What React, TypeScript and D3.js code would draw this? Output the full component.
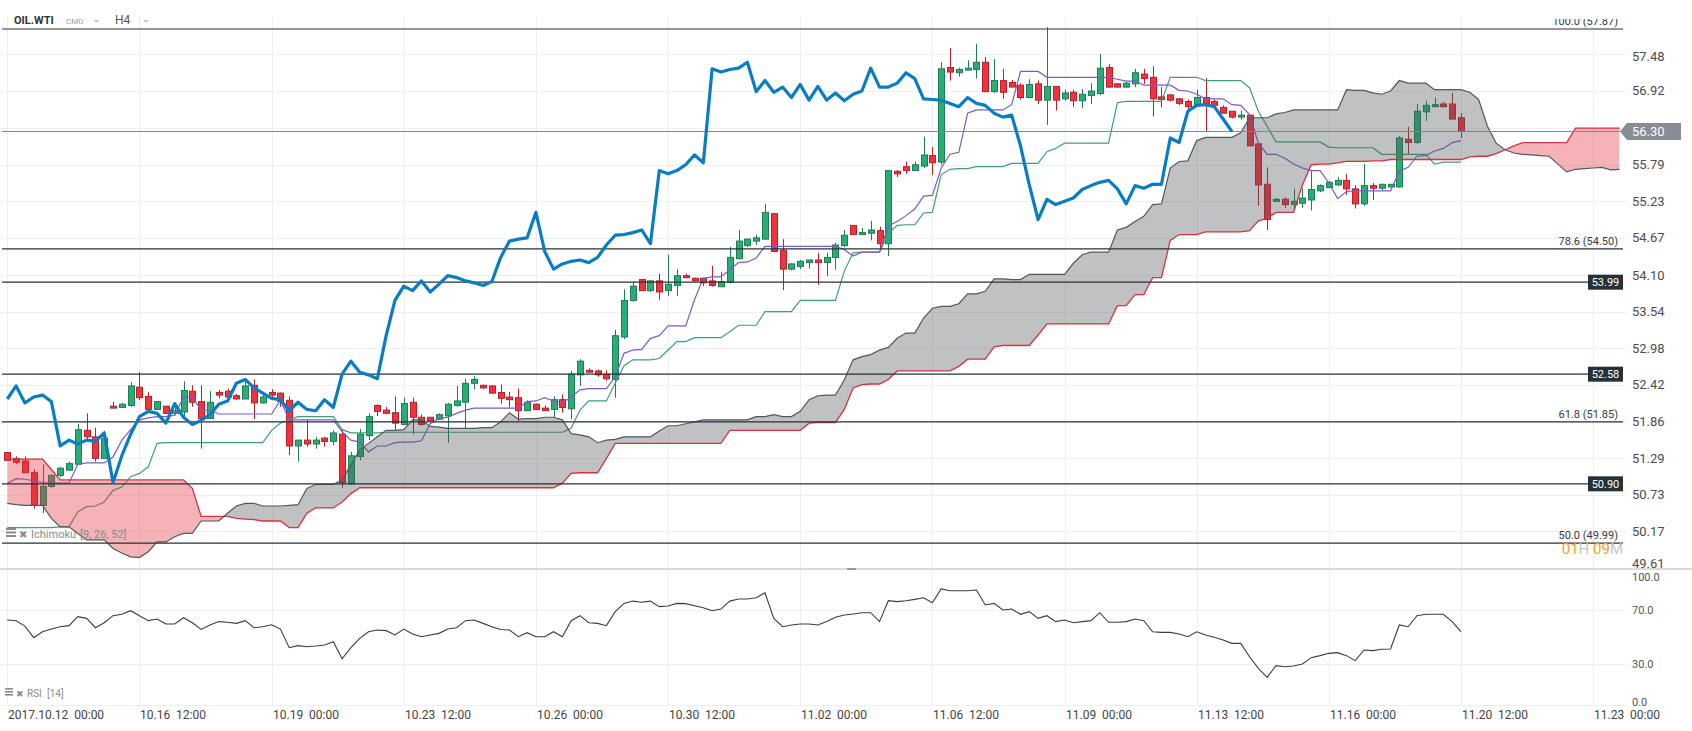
import React from 'react';
import * as d3 from 'd3';

const opens = [51.38,51.29,51.25,51.07,50.57,50.86,51.03,51.11,51.20,51.72,
51.62,51.29,52.09,52.07,52.10,52.38,52.24,52.04,52.09,51.98,
52.00,52.32,52.16,51.90,52.30,52.32,52.25,52.20,52.41,52.14,
52.30,52.29,52.18,51.48,51.57,51.51,51.60,51.55,51.66,50.90,
51.32,51.64,52.10,52.03,51.99,51.81,52.15,51.92,51.92,51.89,
51.94,52.10,52.15,52.44,52.41,52.40,52.30,52.23,52.22,52.02,
52.12,52.06,52.04,52.19,52.05,52.57,52.64,52.63,52.58,52.50,
53.15,53.71,54.03,53.86,54.01,53.86,53.94,54.09,54.05,54.05,
54.01,53.92,53.99,54.35,54.55,54.62,54.65,55.04,54.48,54.19,
54.23,54.29,54.33,54.29,54.37,54.55,54.86,54.72,54.74,54.78,
54.58,55.69,55.76,55.70,55.77,55.93,55.83,57.28,57.20,57.24,
57.25,57.36,56.91,57.08,57.05,57.01,56.82,57.03,56.78,56.99,
56.80,56.90,56.77,56.85,56.88,57.28,57.03,56.98,57.03,57.18,
57.13,56.83,56.86,56.80,56.76,56.70,56.82,56.76,56.67,56.61,
56.52,56.55,56.11,55.49,55.23,55.26,55.18,55.20,55.25,55.39,
55.44,55.48,55.55,55.42,55.19,55.47,55.43,55.45,55.45,56.18,
56.13,56.60,56.68,56.72,56.72,56.51];

const highs = [51.38,51.32,51.32,51.12,51.20,51.04,51.16,51.24,51.82,51.98,
51.76,51.71,52.16,52.14,52.46,52.61,52.31,52.16,52.09,52.14,
52.47,52.41,52.41,52.32,52.34,52.36,52.28,52.46,52.50,52.26,
52.35,52.30,52.24,51.57,51.88,51.62,51.62,51.72,51.73,51.39,
51.74,51.98,52.12,52.08,52.24,52.22,52.22,51.96,51.92,51.98,
52.14,52.40,52.51,52.55,52.42,52.41,52.42,52.31,52.36,52.18,
52.13,52.10,52.24,52.27,52.63,52.81,52.67,52.65,52.64,53.26,
53.88,54.00,54.03,54.02,54.12,54.41,54.19,54.12,54.06,54.06,
54.24,54.15,54.53,54.79,54.66,54.72,55.19,55.04,54.65,54.28,
54.33,54.33,54.44,54.44,54.59,54.79,54.86,54.82,54.93,54.84,
55.71,55.71,55.84,55.84,56.22,56.06,57.36,57.58,57.28,57.39,
57.64,57.44,57.41,57.26,57.09,57.04,57.10,57.08,57.90,56.99,
56.94,56.94,56.95,57.04,57.49,57.33,57.04,57.06,57.26,57.26,
57.30,56.98,56.87,56.81,56.79,56.94,57.12,56.79,56.70,56.61,
56.62,56.55,56.11,55.75,55.28,55.29,55.42,55.43,55.69,55.49,
55.54,55.60,55.65,55.48,55.80,55.51,55.50,55.49,56.23,56.37,
56.72,56.77,56.82,56.75,56.89,56.58];

const lows = [51.25,51.20,51.07,50.52,50.45,50.84,51.00,51.10,51.20,51.58,
51.24,51.29,52.06,52.06,52.08,52.18,51.99,52.04,51.97,51.95,
51.93,52.08,51.44,51.89,52.21,52.21,52.19,52.20,51.89,52.13,
52.23,52.08,51.34,51.24,51.47,51.44,51.47,51.49,50.84,50.89,
51.26,51.57,51.94,51.97,51.72,51.80,51.66,51.79,51.86,51.88,
51.53,52.08,51.74,52.35,52.35,52.28,52.13,52.07,51.86,52.02,
52.03,52.02,51.91,51.99,51.89,52.40,52.61,52.54,52.48,52.22,
53.12,53.69,53.86,53.84,53.72,53.78,53.78,54.05,54.00,53.93,
53.92,53.92,53.97,54.34,54.53,54.56,54.64,54.46,53.87,54.17,
54.19,54.20,53.95,54.08,54.18,54.53,54.72,54.71,54.63,54.50,
54.39,55.60,55.65,55.70,55.74,55.63,55.79,57.08,57.14,57.24,
57.11,56.90,56.89,56.80,56.98,56.79,56.81,56.72,56.40,56.62,
56.77,56.68,56.66,56.72,56.86,56.97,56.97,56.97,56.98,57.03,
56.53,56.67,56.76,56.70,56.63,56.68,56.29,56.68,56.57,56.50,
56.48,56.07,55.16,54.79,55.22,55.13,55.10,55.13,55.09,55.37,
55.43,55.47,55.33,55.12,55.16,55.25,55.39,55.44,55.44,55.94,
56.11,56.46,56.67,56.67,56.48,56.20];

const closes = [51.26,51.23,51.07,50.57,50.86,51.03,51.14,51.21,51.73,51.62,
51.29,51.60,52.06,52.12,52.40,52.22,52.04,52.16,51.98,52.02,
52.33,52.15,51.90,52.15,52.26,52.23,52.20,52.40,52.14,52.23,
52.26,52.16,51.48,51.57,51.51,51.57,51.55,51.68,50.92,51.33,
51.66,51.93,52.01,51.98,51.83,52.13,51.92,51.81,51.87,51.96,
52.12,52.17,52.44,52.50,52.37,52.29,52.21,52.19,52.02,52.15,
52.04,52.02,52.19,52.07,52.58,52.78,52.61,52.57,52.51,53.17,
53.71,53.93,53.86,54.01,53.84,53.96,54.09,54.06,54.01,53.98,
53.94,54.00,54.37,54.62,54.65,54.67,55.06,54.46,54.19,54.27,
54.31,54.33,54.29,54.37,54.56,54.71,54.72,54.75,54.79,54.58,
55.70,55.65,55.70,55.79,55.94,55.82,57.26,57.21,57.25,57.27,
57.36,56.91,57.08,56.90,56.98,56.82,57.02,56.78,56.99,56.78,
56.89,56.77,56.87,56.92,57.27,56.98,56.98,57.04,57.20,57.11,
56.80,56.79,56.78,56.73,56.68,56.82,56.73,56.70,56.58,56.52,
56.55,56.08,55.48,54.95,55.26,55.18,55.23,55.28,55.41,55.47,
55.52,55.55,55.42,55.19,55.47,55.43,55.49,55.49,56.20,56.13,
56.61,56.70,56.71,56.68,56.49,56.30];

const tenkan = [50.91,50.98,50.97,50.95,50.92,50.91,50.91,50.91,51.20,51.22,
51.22,51.22,51.31,51.57,51.73,51.88,51.91,51.93,51.93,51.95,
52.23,52.23,52.03,52.03,51.97,51.97,51.97,51.97,51.97,51.97,
51.97,52.18,51.88,51.88,51.88,51.88,51.88,51.88,51.70,51.57,
51.54,51.39,51.48,51.48,51.53,51.54,51.54,51.56,51.82,51.90,
51.92,51.98,52.03,52.06,52.06,52.06,52.06,52.06,52.06,52.16,
52.17,52.22,52.17,52.14,52.23,52.34,52.36,52.36,52.36,52.54,
52.90,52.95,52.96,53.13,53.17,53.32,53.32,53.32,53.72,54.05,
54.07,54.07,54.18,54.29,54.30,54.36,54.54,54.54,54.54,54.54,
54.54,54.54,54.54,54.54,54.54,54.49,54.39,54.45,54.45,54.45,
54.85,54.92,55.01,55.11,55.31,55.32,55.74,55.95,55.98,56.58,
56.63,56.63,56.63,56.63,56.71,57.22,57.22,57.22,57.13,57.13,
57.13,57.13,57.13,57.13,57.13,57.13,57.10,57.07,57.07,57.01,
57.01,57.01,57.01,56.93,56.92,56.87,56.80,56.80,56.80,56.71,
56.70,56.56,56.12,55.95,55.95,55.89,55.80,55.74,55.70,55.70,
55.51,55.27,55.38,55.39,55.39,55.39,55.39,55.39,55.69,55.75,
55.92,55.93,56.00,56.04,56.13,56.16];

const kijun = [50.23,50.23,50.23,50.23,50.23,50.23,50.24,50.24,50.47,50.55,
50.56,50.62,50.80,50.85,51.01,51.06,51.16,51.52,51.53,51.53,
51.53,51.53,51.53,51.53,51.53,51.53,51.53,51.53,51.53,51.53,
51.72,51.83,51.88,51.93,51.93,51.93,51.93,51.93,51.73,51.68,
51.68,51.68,51.68,51.69,51.69,51.69,51.69,51.69,51.69,51.69,
51.69,51.69,51.69,51.69,51.69,51.69,51.69,51.69,51.69,51.69,
51.69,51.69,51.69,51.69,51.75,52.03,52.17,52.17,52.17,52.44,
52.71,52.80,52.80,52.80,52.82,52.95,53.08,53.08,53.14,53.14,
53.14,53.14,53.23,53.33,53.33,53.33,53.54,53.54,53.54,53.54,
53.71,53.71,53.71,53.71,53.71,54.16,54.44,54.45,54.45,54.45,
54.74,54.86,54.87,54.87,55.05,55.06,55.64,55.72,55.73,55.73,
55.76,55.76,55.76,55.76,55.81,55.81,55.81,55.81,55.99,56.04,
56.12,56.12,56.12,56.12,56.12,56.12,56.74,56.76,56.76,56.76,
56.76,56.76,57.13,57.13,57.13,57.13,57.08,57.08,57.08,57.08,
57.08,56.97,56.61,56.38,56.14,56.14,56.14,56.14,56.14,56.14,
56.06,56.05,56.05,56.05,56.05,56.05,55.95,55.95,55.95,55.95,
55.95,55.95,55.80,55.83,55.83,55.83];

const spanA = [50.60,50.58,50.57,50.57,50.57,50.37,50.24,50.24,50.14,50.04,
50.04,50.04,49.91,49.84,49.78,49.77,49.86,50.01,50.01,50.09,
50.14,50.14,50.33,50.33,50.33,50.45,50.56,50.60,50.60,50.56,
50.56,50.56,50.57,50.58,50.83,50.89,50.89,50.89,50.96,51.19,
51.42,51.52,51.62,51.72,51.72,51.73,51.88,51.88,51.78,51.77,
51.75,51.75,51.75,51.75,51.76,51.76,51.85,51.99,51.89,51.90,
51.90,51.92,51.92,51.88,51.67,51.65,51.62,51.53,51.57,51.58,
51.62,51.62,51.62,51.62,51.71,51.79,51.79,51.82,51.85,51.88,
51.88,51.88,51.88,51.88,51.88,51.93,51.93,51.96,51.93,51.93,
52.01,52.19,52.25,52.26,52.26,52.49,52.80,52.85,52.88,52.95,
52.99,53.13,53.21,53.21,53.44,53.59,53.62,53.62,53.66,53.81,
53.81,53.85,54.04,54.04,54.03,54.03,54.11,54.11,54.11,54.11,
54.11,54.28,54.41,54.45,54.45,54.45,54.79,54.83,54.92,55.00,
55.18,55.19,55.74,55.84,55.85,56.16,56.21,56.21,56.21,56.21,
56.28,56.51,56.51,56.51,56.57,56.59,56.63,56.63,56.63,56.63,
56.63,56.63,56.94,56.93,56.93,56.89,56.87,56.92,57.08,57.04,
57.04,57.04,56.94,56.94,56.94,56.94,56.90,56.79,56.38,56.12,
56.02,55.97,55.95,55.94,55.93,55.92,55.80,55.68,55.72,55.73,
55.74,55.75,55.71,55.72];

const spanB = [51.28,51.28,51.28,51.28,51.28,51.12,50.96,50.96,50.96,50.96,
50.96,50.96,50.96,50.96,50.96,50.96,50.96,50.96,50.96,50.96,
50.96,50.83,50.40,50.40,50.40,50.40,50.37,50.36,50.35,50.33,
50.33,50.33,50.23,50.23,50.45,50.53,50.53,50.53,50.62,50.75,
50.84,50.84,50.84,50.84,50.84,50.84,50.84,50.84,50.84,50.84,
50.84,50.84,50.84,50.84,50.84,50.84,50.84,50.84,50.84,50.84,
50.84,50.84,50.84,50.91,51.06,51.07,51.07,51.07,51.29,51.52,
51.52,51.52,51.52,51.52,51.52,51.52,51.52,51.52,51.52,51.52,
51.52,51.52,51.72,51.72,51.72,51.72,51.72,51.72,51.72,51.72,
51.72,51.83,51.84,51.84,51.84,52.04,52.37,52.42,52.43,52.43,
52.50,52.63,52.63,52.63,52.63,52.63,52.63,52.63,52.70,52.81,
52.81,52.81,53.00,53.02,53.02,53.02,53.02,53.18,53.35,53.35,
53.35,53.35,53.35,53.35,53.35,53.35,53.63,53.63,53.80,53.80,
54.06,54.06,54.63,54.72,54.72,54.72,54.76,54.76,54.76,54.76,
54.76,54.78,54.93,54.97,55.06,55.06,55.06,55.48,55.79,55.80,
55.80,55.82,55.84,55.84,55.84,55.85,55.85,55.87,55.87,55.87,
55.87,55.87,55.87,55.87,55.87,55.87,55.91,55.92,55.92,55.96,
56.02,56.08,56.13,56.13,56.13,56.13,56.13,56.13,56.35,56.35,
56.35,56.35,56.35,56.35];

const rsi = [62.6,62.1,58.1,49.5,53.9,55.9,57.6,58.4,65.1,63.8,
56.9,60.6,65.8,66.8,69.5,65.8,62.1,63.3,59.6,59.6,
64.3,60.6,55.6,58.9,61.4,60.9,60.1,62.1,56.9,57.6,
59.1,55.9,42.1,43.6,42.8,43.3,44.1,46.5,33.9,42.1,
49.0,53.9,55.2,54.7,51.5,55.9,52.2,50.2,51.5,52.7,
55.9,56.9,62.1,62.6,60.1,57.6,55.6,55.2,50.2,53.2,
50.2,50.2,53.9,50.2,62.1,65.8,60.6,60.1,58.4,68.8,
74.9,76.6,75.7,76.6,72.5,73.0,74.9,74.7,73.2,71.7,
69.5,70.7,76.6,78.1,78.1,79.1,82.8,63.8,57.6,58.9,
59.6,59.6,58.9,61.4,64.6,66.3,67.0,68.0,68.0,61.4,
76.9,76.2,76.9,77.9,79.1,75.4,85.6,84.3,84.3,84.3,
84.8,73.7,74.9,70.0,70.7,66.8,68.8,63.8,65.8,61.4,
62.6,60.6,61.4,62.1,68.0,60.9,60.9,61.4,63.3,62.1,
53.9,53.4,53.4,52.2,50.2,53.9,51.5,49.8,47.8,45.3,
45.3,35.4,26.8,20.1,28.8,28.0,28.5,30.0,34.7,36.2,
37.9,38.4,36.2,32.5,40.4,39.9,40.9,41.1,58.9,57.6,
65.8,66.8,66.8,66.8,61.4,53.9];

const priceTicks = [57.48, 56.92, 56.35, 55.79, 55.23, 54.67, 54.10, 53.54, 52.98, 52.42, 51.86, 51.29, 50.73, 50.17, 49.61];
const fibLevels = [57.87, 54.50, 51.85, 49.99];
const fibLabels = ['100.0 (57.87)', '78.6 (54.50)', '61.8 (51.85)', '50.0 (49.99)'];
const markedLevels = [53.99, 52.58, 50.90];
const lastPrice = 56.30;
const dateLabels = ['2017.10.12  00:00', '10.16  12:00', '10.19  00:00', '10.23  12:00', '10.26  00:00', '10.30  12:00', '11.02  00:00', '11.06  12:00', '11.09  00:00', '11.13  12:00', '11.16  00:00', '11.20  12:00', '11.23  00:00'];
const barsPerLabel = 15;
const rsiTicks = [100, 70, 30, 0];
const chikouShift = 26;

const FONT = "Roboto, 'Liberation Sans', Arial, sans-serif";

export default function App() {
  const plotRight = 1623;
  const xs = d3.scaleLinear().domain([0, 165]).range([7.3, 1461]);
  const yP = d3.scaleLinear().domain([49.61, 57.87]).range([568, 29]);
  const yR = d3.scaleLinear().domain([0, 100]).range([704.5, 569.5]);

  const lineOf = (arr: number[], offset = 0) =>
    d3.line<number>().x((_, i) => xs(i + offset)).y(d => yP(d))(arr) || '';

  const idx = d3.range(spanA.length);
  const cloudPath = d3.area<number>().x(i => xs(i)).y0(i => yP(spanB[i])).y1(i => yP(spanA[i]))(idx) || '';
  const clipAbove = d3.area<number>().x(i => xs(i)).y0(0).y1(i => yP(spanB[i]))(idx) || '';
  const clipBelow = d3.area<number>().x(i => xs(i)).y0(i => yP(spanB[i])).y1(800)(idx) || '';
  const chikou = closes.slice(chikouShift);
  const rsiPath = d3.line<number>().x((_, i) => xs(i)).y(d => yR(d))(rsi) || '';

  const axisY = (v: number) => Math.min(Math.max(yP(v), 56), 563);
  const rsiLabelY = (v: number) => Math.min(Math.max(yR(v), 577), 702);
  const tagY = yP(lastPrice);
  const visibleTicks = priceTicks.filter(v => Math.abs(yP(v) - tagY) > 12);

  const green = '#29ad76', greenS = '#1f7d56';
  const red = '#f2333f', redS = '#b5222e';

  return (
    <div style={{ position: 'absolute', left: 0, top: 0, width: 1692, height: 731, background: '#fff' }}>
      <svg width={1692} height={731} style={{ display: 'block', fontFamily: FONT }}>
        <defs>
          <clipPath id="plot"><rect x={0} y={19} width={plotRight} height={550} /></clipPath>
          <clipPath id="above"><path d={clipAbove} /></clipPath>
          <clipPath id="below"><path d={clipBelow} /></clipPath>
        </defs>
        <rect x={0} y={0} width={1692} height={731} fill="#fff" />

        {dateLabels.map((_, k) => {
          const x = Math.round(xs(k * barsPerLabel)) + 0.5;
          return <line key={'vg' + k} x1={x} x2={x} y1={17} y2={705} stroke="#eeeeee" strokeWidth={1} />;
        })}
        {priceTicks.map(v => (
          <line key={'hg' + v} x1={0} x2={1627} y1={Math.round(yP(v)) + 0.5} y2={Math.round(yP(v)) + 0.5} stroke="#efefef" />
        ))}
        {[70, 30, 0].map(v => (
          <line key={'rg' + v} x1={0} x2={1627} y1={Math.round(yR(v)) + 0.5} y2={Math.round(yR(v)) + 0.5} stroke="#efefef" />
        ))}

        <g clipPath="url(#plot)">
          {closes.map((c, i) => {
            const o = opens[i];
            const up = c >= o;
            const x = Math.round(xs(i));
            const yTop = yP(Math.max(o, c));
            const yBot = yP(Math.min(o, c));
            return (
              <g key={'c' + i}>
                <line x1={x + 0.5} x2={x + 0.5} y1={yP(highs[i])} y2={yP(lows[i])} stroke={up ? greenS : redS} strokeWidth={1} />
                <rect x={x - 2.5} y={yTop} width={6} height={Math.max(1, yBot - yTop)} fill={up ? green : red} stroke={up ? greenS : redS} strokeWidth={1} />
              </g>
            );
          })}
          <path d={lineOf(kijun)} fill="none" stroke="#3f9f78" strokeWidth={1.2} />
          <path d={lineOf(tenkan)} fill="none" stroke="#7b5cc7" strokeWidth={1.2} />

          <path d={cloudPath} fill="rgb(78,84,90)" fillOpacity={0.36} clipPath="url(#above)" />
          <path d={cloudPath} fill="rgb(225,50,60)" fillOpacity={0.37} clipPath="url(#below)" />
          <path d={lineOf(spanB)} fill="none" stroke="#d8323e" strokeWidth={1.3} />
          <path d={lineOf(spanA)} fill="none" stroke="#52585e" strokeWidth={1.2} />

          {fibLevels.map(v => (
            <line key={'f' + v} x1={2} x2={plotRight} y1={yP(v)} y2={yP(v)} stroke="#2a3035" strokeWidth={1.2} />
          ))}
          {markedLevels.map(v => (
            <line key={'m' + v} x1={2} x2={plotRight} y1={yP(v)} y2={yP(v)} stroke="#2a3035" strokeWidth={1.2} />
          ))}
          <line x1={2} x2={plotRight} y1={tagY} y2={tagY} stroke="#7c868c" strokeWidth={1} />

          <path d={lineOf(chikou)} fill="none" stroke="#0a7dc2" strokeWidth={3.2} strokeLinejoin="round" />

          {fibLabels.map((t, k) => (
            <text key={'fl' + k} x={1618} y={yP(fibLevels[k]) - 4} textAnchor="end" fontSize={11} fill="#3a3a3a">{t}</text>
          ))}
        </g>

        {markedLevels.map(v => (
          <g key={'mb' + v}>
            <rect x={1588} y={yP(v) - 7.5} width={35} height={15} fill="#253038" />
            <text x={1605.5} y={yP(v) + 0.5} textAnchor="middle" dominantBaseline="central" fontSize={11} fill="#fff">{v.toFixed(2)}</text>
          </g>
        ))}

        <text x={1623} y={554} textAnchor="end" fontSize={15}>
          <tspan fill="#f5a02a">01</tspan><tspan fill="#c3c7ca">H </tspan><tspan fill="#f5a02a">09</tspan><tspan fill="#c3c7ca">M</tspan>
        </text>

        {visibleTicks.map(v => (
          <text key={'pl' + v} x={1632} y={axisY(v)} dominantBaseline="central" fontSize={13} fill="#4d4d4d">{v.toFixed(2)}</text>
        ))}
        <path d={`M1620,${tagY} L1627,${tagY - 8.5} L1681,${tagY - 8.5} L1681,${tagY + 8.5} L1627,${tagY + 8.5} Z`} fill="#868e94" />
        <text x={1632} y={tagY + 0.5} dominantBaseline="central" fontSize={13} fill="#fff">{lastPrice.toFixed(2)}</text>

        <line x1={0} x2={1692} y1={569} y2={569} stroke="#dadada" strokeWidth={2} />
        <rect x={847} y={568} width={9} height={2} fill="#9a9a9a" />

        <path d={rsiPath} fill="none" stroke="#3a3d40" strokeWidth={1.1} />
        {rsiTicks.map(v => (
          <text key={'rl' + v} x={1632} y={rsiLabelY(v)} dominantBaseline="central" fontSize={11} fill="#555">{v.toFixed(1)}</text>
        ))}

        {dateLabels.map((t, k) => (
          <text key={'dl' + k} x={Math.round(xs(k * barsPerLabel)) + 1} y={719} fontSize={12} fill="#444" style={{ whiteSpace: 'pre' }}>{t}</text>
        ))}

        <text x={14} y={24} fontSize={11} fontWeight="bold" fill="#333">OIL.WTI</text>
        <text x={66} y={24} fontSize={8} fill="#9aa2a8">CMD</text>
        <path d="M93,20 L100,20 L96.5,23 Z" fill="#c5c9cc" />
        <text x={115} y={24} fontSize={12} fill="#555">H4</text>
        <path d="M143,20 L149,20 L146,23 Z" fill="#c5c9cc" />

        <g fill="#8c8c8c">
          <rect x={6} y={528} width={10} height={2} />
          <rect x={6} y={531.5} width={10} height={2} />
          <rect x={6} y={535} width={10} height={2} />
          <text x={19} y={537.5} fontSize={10}>✖</text>
          <text x={31} y={537.5} fontSize={11}>Ichimoku</text>
          <text x={80} y={537.5} fontSize={11}>[9, 26, 52]</text>
          <rect x={5} y={688} width={8} height={1.6} />
          <rect x={5} y={691} width={8} height={1.6} />
          <rect x={5} y={694} width={8} height={1.6} />
          <text x={16} y={697} fontSize={9}>✖</text>
          <text x={27} y={697} fontSize={10}>RSI</text>
          <text x={47} y={697} fontSize={10}>[14]</text>
        </g>
      </svg>
    </div>
  );
}
